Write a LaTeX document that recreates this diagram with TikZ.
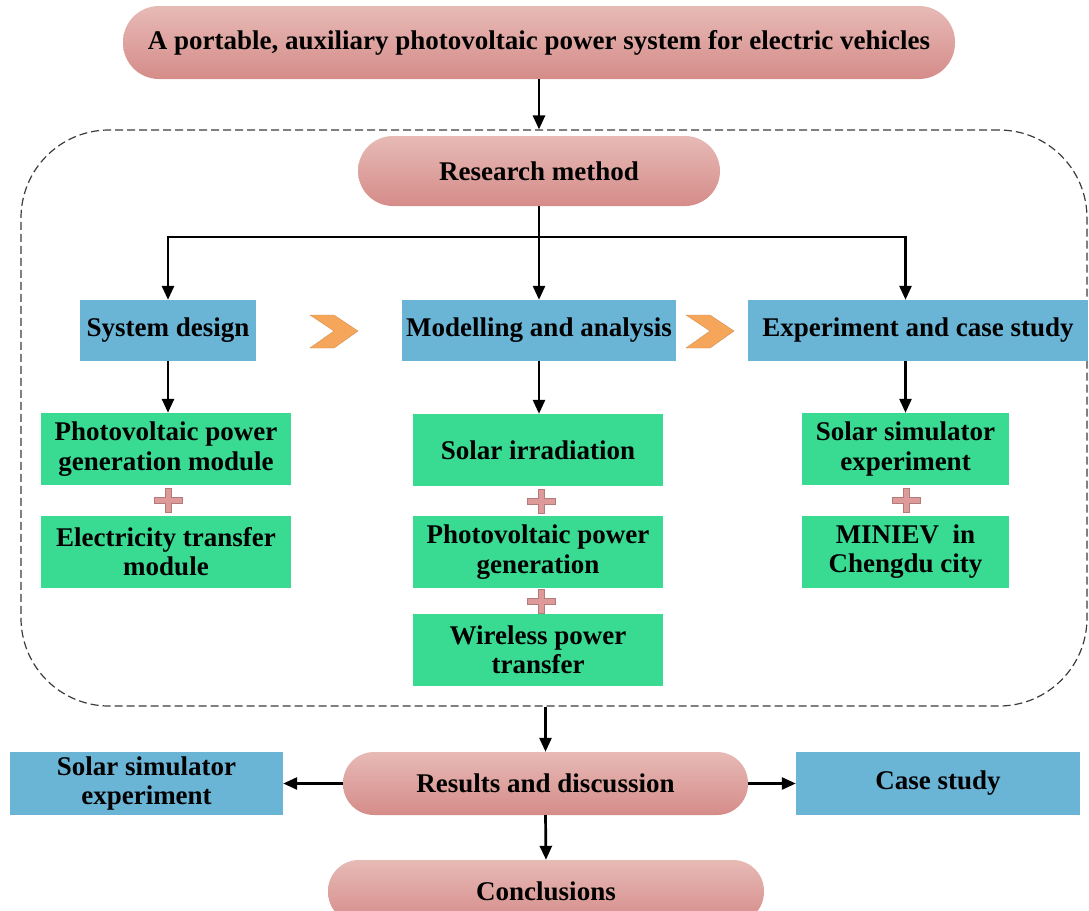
\documentclass[tikz,border=0pt]{standalone}
\usepackage{fontspec}
\setmainfont{Liberation Serif}
\usetikzlibrary{arrows.meta,calc}
\definecolor{pinktop}{RGB}{231,186,182}
\definecolor{pinkbot}{RGB}{213,140,137}
\definecolor{boxblue}{RGB}{106,180,214}
\definecolor{boxgreen}{RGB}{57,218,146}
\definecolor{chevc}{RGB}{245,166,90}
\definecolor{plusc}{RGB}{222,154,152}
\definecolor{framec}{RGB}{60,60,60}
\begin{document}
\begin{tikzpicture}[x=1pt,y=-1pt,
  txt/.style={font=\fontsize{27}{29.5}\selectfont\bfseries, align=center, inner sep=0pt, text=black},
  pill/.style={txt, rounded corners=#1, top color=pinktop, bottom color=pinkbot, draw=none},
  bluebox/.style={txt, fill=boxblue},
  greenbox/.style={txt, fill=boxgreen, minimum height=72pt},
  arr/.style={line width=2.7pt, -{Triangle[length=14pt,width=12pt]}},
  plusmark/.pic={
    \fill[plusc, draw=plusc!80!black, line width=0.4pt] (-14,-3) -- (-3,-3) -- (-3,-12) -- (3,-12) -- (3,-3) -- (14,-3) -- (14,3) -- (3,3) -- (3,12) -- (-3,12) -- (-3,3) -- (-14,3) -- cycle;
  },
  chevmark/.pic={
    \fill[chevc, draw=chevc!85!black, line width=0.4pt] (-24,-16) -- (0,-16) -- (24,0) -- (0,17) -- (-24,17) -- (0,0) -- cycle;
  }
]
\useasboundingbox (0,0) rectangle (1089,910);

% dashed frame
\node[draw=framec, dash pattern=on 8pt off 4pt, line width=1.2pt, rounded corners=88pt,
      minimum width=1066pt, minimum height=576pt, inner sep=0pt] (frame) at (554,418) {};

% pills
\node[pill=36pt, minimum width=832pt, minimum height=73pt] (title) at (539,42.5)
  {A portable, auxiliary photovoltaic power system for electric vehicles};
\node[pill=35pt, minimum width=362pt, minimum height=70pt] (rm) at (539,171) {Research method};
\node[pill=31pt, minimum width=405pt, minimum height=63pt] (res) at (545.5,783.5) {Results and discussion};
\node[pill=31pt, minimum width=436pt, minimum height=63pt] (con) at (546,891.5) {Conclusions};

% blue boxes
\node[bluebox, minimum width=176pt, minimum height=61pt] (sd) at (168,330.5) {System design};
\node[bluebox, minimum width=274pt, minimum height=61pt] (ma) at (539,330.5) {Modelling and analysis};
\node[bluebox, minimum width=340pt, minimum height=61pt] (ex) at (918,330.5) {Experiment and case study};
\node[bluebox, minimum width=273pt, minimum height=63pt] (lb) at (146.5,783.5) {Solar simulator\\experiment};
\node[bluebox, minimum width=284pt, minimum height=63pt] (rb) at (938,783.5) {Case study};

% green boxes
\node[greenbox, minimum width=250pt] (g11) at (166,449) {Photovoltaic power\\generation module};
\node[greenbox, minimum width=250pt] (g12) at (166,551.5) {Electricity transfer\\module};
\node[greenbox, minimum width=250pt] (g21) at (538,450) {Solar irradiation};
\node[greenbox, minimum width=250pt] (g22) at (538,552) {Photovoltaic power\\generation};
\node[greenbox, minimum width=250pt] (g23) at (538,650) {Wireless power\\transfer};
\node[greenbox, minimum width=207pt] (g31) at (905.5,449) {Solar simulator\\experiment};
\node[greenbox, minimum width=207pt] (g32) at (905.5,551.5) {MINIEV~~in\\Chengdu city};

% plus signs
\pic at ($(g11.south)!0.5!(g12.north)+(2,0)$) {plusmark};
\pic at ($(g21.south)!0.5!(g22.north)+(3,0)$) {plusmark};
\pic at ($(g22.south)!0.5!(g23.north)+(3,0)$) {plusmark};
\pic at ($(g31.south)!0.5!(g32.north)+(1,0)$) {plusmark};

% chevrons
\pic at (334,331) {chevmark};
\pic at (710,331) {chevmark};

% connectors
\coordinate (bar) at (539,237);
\draw[arr] (title.south) -- (title.south |- frame.north);
\draw[line width=2.7pt] (rm.south) -- (bar);
\draw[line width=2.7pt, line cap=rect] (bar -| sd.north) -- (bar -| g31.north);
\draw[arr] (bar -| sd.north) -- (sd.north);
\draw[arr] (bar) -- (ma.north);
\draw[arr] (bar -| g31.north) -- (g31.north |- ex.north);
\draw[arr] (sd.south) -- (sd.south |- g11.north);
\draw[arr] (ma.south) -- (ma.south |- g21.north);
\draw[arr] (g31.north |- ex.south) -- (g31.north);
\draw[arr] (res.north |- frame.south) -- (res.north);
\draw[arr] (res.west) -- (lb.east);
\draw[arr] (res.east) -- (rb.west);
\draw[arr] (res.south) -- (con.north);
\end{tikzpicture}
\end{document}
